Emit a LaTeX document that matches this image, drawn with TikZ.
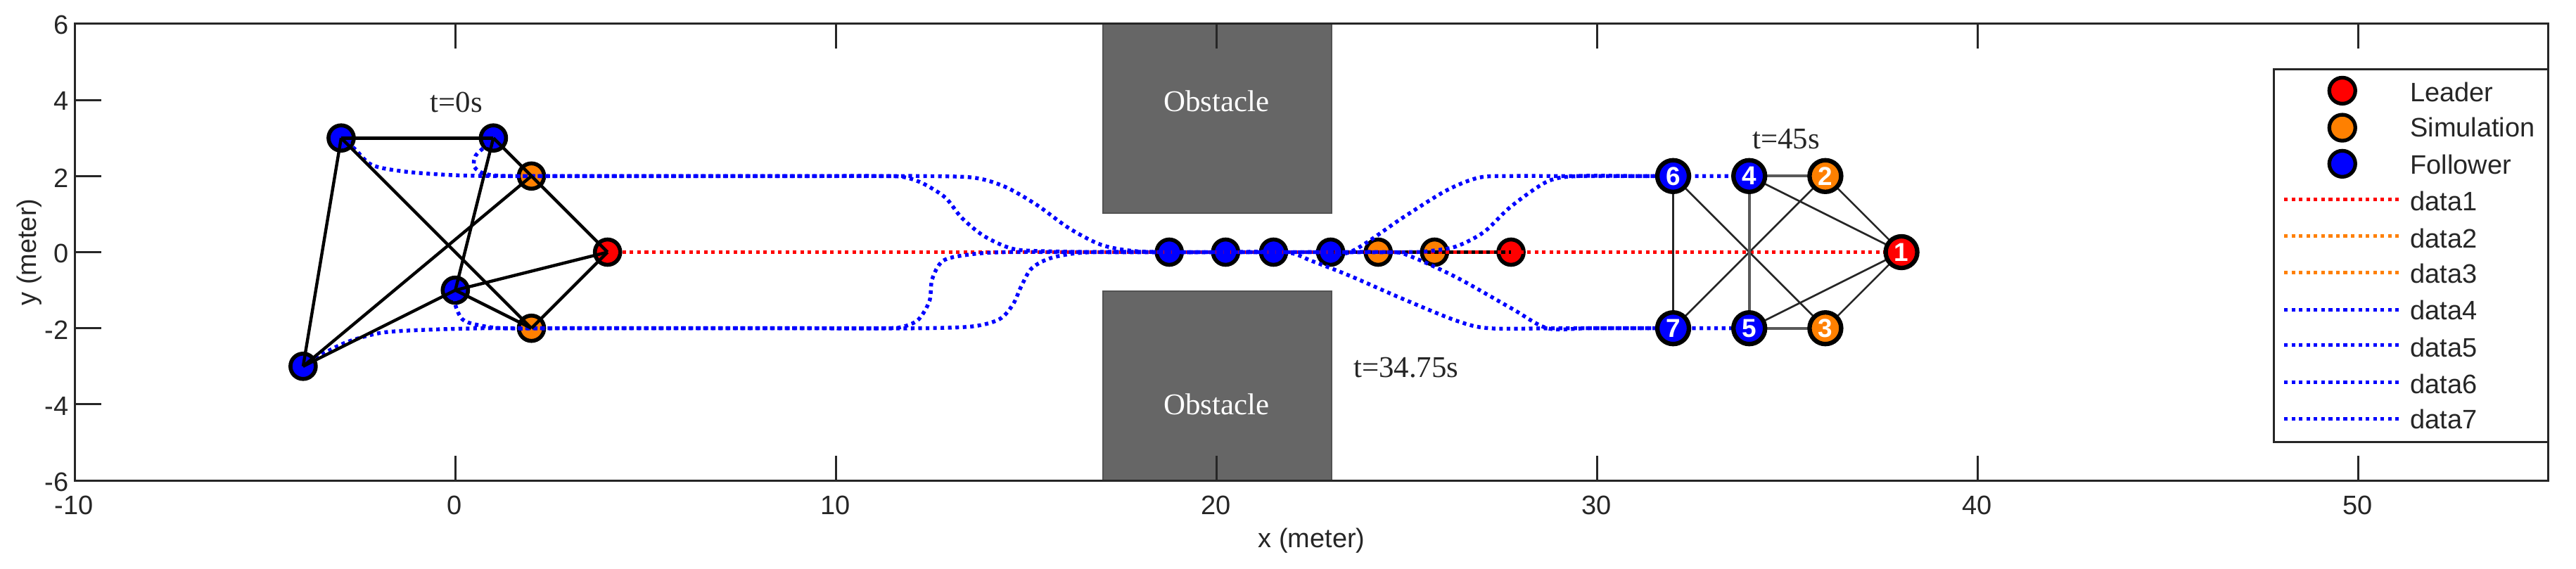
\documentclass[tikz,border=0pt]{standalone}
\usepackage{fontspec}
\setmainfont{Liberation Serif}
\newfontfamily\arialf{Liberation Sans}
\definecolor{simorange}{HTML}{FF8000}
\definecolor{obst}{HTML}{666666}
\definecolor{axtext}{HTML}{262626}
\tikzset{
  agent/.style={circle,draw=black,line width=1.6pt,minimum size=0.36cm,inner sep=0pt},
  numagent/.style={circle,draw=black,line width=1.8pt,minimum size=0.45cm,inner sep=0pt,text=white,font=\arialf\bfseries\fontsize{10.5}{10.5}\selectfont},
  legagent/.style={circle,draw=black,line width=1.5pt,minimum size=0.37cm,inner sep=0pt},
  leader/.style={fill=red},
  sim/.style={fill=simorange},
  follower/.style={fill=blue},
  axline/.style={draw=axtext,line width=0.8pt},
  ticklab/.style={text=axtext,font=\arialf\fontsize{10.8}{10.8}\selectfont,inner sep=0pt},
  timelab/.style={text=black!85,font=\fontsize{12.2}{12.2}\selectfont,inner sep=0pt},
  obslab/.style={text=white,font=\fontsize{12.2}{12.2}\selectfont,inner sep=0pt},
  trajblue/.style={draw=blue,line width=1.55pt,dash pattern=on 1.45pt off 1.55pt,smooth,tension=0.5},
  trajred/.style={draw=red,line width=1.55pt,dash pattern=on 1.45pt off 1.55pt},
  chainblue/.style={draw=blue,line width=1.5pt},
  edgeL/.style={draw=black,line width=1.25pt},
  edgeLthick/.style={draw=black,line width=1.5pt},
  edgeR/.style={draw=black!85,line width=0.75pt},
  edgeRthick/.style={draw=black!65,line width=1.1pt},
  legline/.style={line width=1.5pt,dash pattern=on 1.45pt off 1.55pt},
  legtext/.style={anchor=base west,text=axtext,font=\arialf\fontsize{10.8}{10.8}\selectfont,inner sep=0pt},
}
\begin{document}
\begin{tikzpicture}[x=0.541cm,y=0.541cm]
\useasboundingbox (-6.473cm,3.585cm) rectangle ++(36.62cm,-8.08cm);
% obstacles
\node[fill=obst,draw=obst!80!black,line width=0.6pt,inner sep=0pt,minimum width=3.246cm,minimum height=2.705cm,anchor=south west] (obsA) at (17,1) {};
\node[fill=obst,draw=obst!80!black,line width=0.6pt,inner sep=0pt,minimum width=3.246cm,minimum height=2.705cm,anchor=north west] (obsB) at (17,-1) {};
\node[obslab] (obsAl) at (20,3.96) {Obstacle};
\node[obslab] (obsBl) at (20,-4) {Obstacle};
% axes box
\draw[axline] (-10,-6) rectangle (55,6);
\foreach \X in {-10,0,...,50}{
  \draw[axline] (\X,-6) -- ++(0,0.65);
  \draw[axline] (\X,6) -- ++(0,-0.65);
}
\foreach \Y in {-6,-4,...,6}{
  \draw[axline] (-10,\Y) -- ++(0.7,0);
}
\foreach \X/\L in {-10/-10,0/0,10/10,20/20,30/30,40/40,50/50}{
  \node[ticklab] (xt\X) at (\X-0.02,-6.66) {\L};
}
\foreach \Y/\L/\D in {6/6/-0.03,4/4/-0.03,2/2/-0.05,0/0/-0.03,-2/-2/-0.04,-4/-4/-0.04,-6/-6/-0.05}{
  \node[ticklab,anchor=east] (yt\Y) at (-10.15,\Y+\D) {\L};
}
\node[ticklab] (xlab) at (22.5,-7.58) {x (meter)};
\node[ticklab,rotate=90] (ylab) at (-11.2,0) {y (meter)};
% left formation t=0
\node[agent,leader]   (a1) at (4,0) {};
\node[agent,sim]      (a2) at (2,2) {};
\node[agent,sim]      (a3) at (2,-2) {};
\node[agent,follower] (a4) at (1,3) {};
\node[agent,follower] (a5) at (0,-1) {};
\node[agent,follower] (a6) at (-3,3) {};
\node[agent,follower] (a7) at (-4,-3) {};
% middle formation t=34.75
\node[agent,leader]   (m1) at (27.74,0) {};
\node[agent,sim]      (m2) at (25.73,0) {};
\node[agent,sim]      (m3) at (24.25,0) {};
\node[agent,follower] (m4) at (23,0) {};
\node[agent,follower] (m5) at (21.5,0) {};
\node[agent,follower] (m6) at (20.24,0) {};
\node[agent,follower] (m7) at (18.76,0) {};
\draw[edgeL] (m7.center) -- (m6.center) -- (m5.center) -- (m4.center) -- (m3.center) -- (m2.center) -- (m1.center);
\draw[chainblue] (m7.center) -- (m6.center) -- (m5.center) -- (m4.center);
% final formation coordinates
\coordinate (c1) at (38,0);
\coordinate (c2) at (36,2);
\coordinate (c3) at (36,-2);
\coordinate (c4) at (34,2);
\coordinate (c5) at (34,-2);
\coordinate (c6) at (32,2);
\coordinate (c7) at (32,-2);
% trajectories
\draw[trajred] (a1.center) -- (c1);
\draw[trajblue] plot coordinates {(a4.center) (0.83,2.82) (0.53,2.53) (0.5,2.24) (0.77,2.06) (1.35,2.0) (3,2) (6,2) (9,2) (11.19,2) (11.8,1.97) (12.3,1.8) (12.88,1.43) (13.3,0.91) (13.88,0.43) (14.6,0.1) (15.3,0.03) (17,0) (20,0) (22.5,0) (23.5,0) (24.9,0.91) (26.04,1.62) (26.9,1.96) (27.74,2) (29,2) (31,2) (c4)};
\draw[trajblue] plot coordinates {(a6.center) (-2.65,2.72) (-2.19,2.29) (-1.35,2.12) (-0.18,2.03) (1,2) (3,2) (6,2) (9,2) (11.5,2) (12.18,2) (13.6,1.96) (14.44,1.72) (15.28,1.24) (16.14,0.62) (16.98,0.19) (17.83,0.03) (19,0) (22,0) (25,0) (25.6,0.03) (26.3,0.15) (27.03,0.53) (27.74,1.2) (28.7,1.86) (29.5,2) (31,2) (c6)};
\draw[trajblue] plot coordinates {(a5.center) (0,-1.38) (0.18,-1.76) (0.53,-1.9) (1.24,-2) (3,-2) (6,-2) (9,-2) (11.3,-2) (11.8,-1.95) (12.18,-1.76) (12.46,-1.28) (12.53,-0.71) (12.81,-0.23) (13.45,-0.07) (14.44,0) (17,0) (20,0) (21.8,0) (22.5,-0.23) (23.5,-0.62) (24.9,-1.23) (26.3,-1.8) (27.17,-2) (29,-2) (31,-2) (c5)};
\draw[trajblue] plot coordinates {(a7.center) (-3.71,-2.8) (-2.89,-2.38) (-1.95,-2.12) (-0.76,-2.04) (0.8,-2) (3,-2) (6,-2) (9,-2) (12.18,-2) (13.6,-1.95) (14.3,-1.76) (14.65,-1.38) (14.87,-0.9) (15.15,-0.42) (15.7,-0.14) (16.7,0) (19,0) (22,0) (24.5,0) (25.05,-0.09) (26.3,-0.66) (27.74,-1.47) (28.7,-2) (29.8,-2) (c7)};
% left graph edges
\draw[edgeLthick] (a6.center) -- (a4.center);
\draw[edgeL] (a4.center) -- (a2.center);
\draw[edgeL] (a2.center) -- (a1.center);
\draw[edgeL] (a3.center) -- (a1.center);
\draw[edgeL] (a5.center) -- (a1.center);
\draw[edgeL] (a5.center) -- (a3.center);
\draw[edgeL] (a6.center) -- (a3.center);
\draw[edgeL] (a7.center) -- (a2.center);
\draw[edgeL] (a7.center) -- (a5.center);
\draw[edgeL] (a7.center) -- (a6.center);
\draw[edgeL] (a5.center) -- (a4.center);
% right graph edges
\draw[edgeR] (c4) -- (c1);
\draw[edgeR] (c2) -- (c1);
\draw[edgeR] (c3) -- (c1);
\draw[edgeR] (c5) -- (c1);
\draw[edgeR] (c2) -- (c7);
\draw[edgeR] (c6) -- (c3);
\draw[edgeR] (c6) -- (c7);
\draw[edgeRthick] (c4) -- (c5);
\draw[edgeRthick] (c4) -- (c2);
\draw[edgeRthick] (c5) -- (c3);
% right formation nodes
\node[numagent,leader]   (r1) at (c1) {1};
\node[numagent,sim]      (r2) at (c2) {2};
\node[numagent,sim]      (r3) at (c3) {3};
\node[numagent,follower] (r4) at (c4) {4};
\node[numagent,follower] (r5) at (c5) {5};
\node[numagent,follower] (r6) at (c6) {6};
\node[numagent,follower] (r7) at (c7) {7};
% time labels
\node[timelab] (t0) at (0.03,3.93) {t=0s};
\node[timelab] (t1) at (24.98,-3.04) {t=34.75s};
\node[timelab] (t2) at (34.97,2.97) {t=45s};
% legend, in reference pixels
\begin{scope}[shift={(-6.473cm,3.585cm)},x=0.01cm,y=-0.01cm]
\node[draw=axtext,fill=white,line width=0.8pt,inner sep=0pt,minimum width=3.897cm,minimum height=5.305cm,anchor=north west] (legbox) at (3233,97) {};
\node[legagent,leader]   (lg1) at (3331.7,129) {};
\node[legagent,sim]      (lg2) at (3331.7,181.7) {};
\node[legagent,follower] (lg3) at (3331.7,233) {};
\node[legtext] (lt1) at (3427.7,145) {Leader};
\node[legtext] (lt2) at (3427.7,195) {Simulation};
\node[legtext] (lt3) at (3427.7,247.5) {Follower};
\node[legtext] (lt4) at (3427.7,300) {data1};
\node[legtext] (lt5) at (3427.7,353) {data2};
\node[legtext] (lt6) at (3427.7,402.5) {data3};
\node[legtext] (lt7) at (3427.7,455) {data4};
\node[legtext] (lt8) at (3427.7,508) {data5};
\node[legtext] (lt9) at (3427.7,559.5) {data6};
\node[legtext] (lt10) at (3427.7,610) {data7};
\foreach \Y/\C/\N in {283.5/red/4,336/simorange/5,388/simorange/6,441/blue/7,491/blue/8,544/blue/9,596/blue/10}{
  \coordinate (ls\N) at (3249,\Y);
  \coordinate (le\N) at (3414,\Y);
  \draw[legline,draw=\C] (ls\N) -- (le\N);
}
\end{scope}
\end{tikzpicture}
\end{document}
